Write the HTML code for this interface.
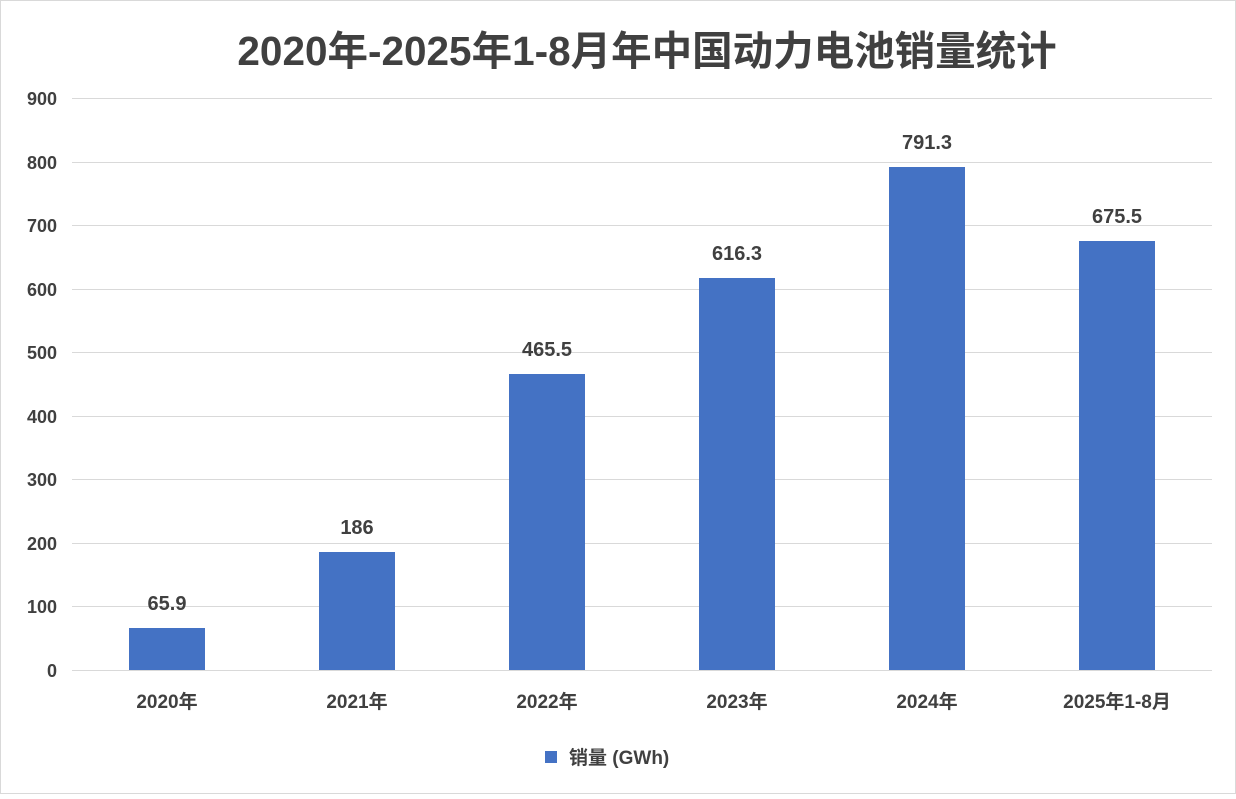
<!DOCTYPE html>
<html><head><meta charset="utf-8"><style>
body{margin:0;background:#fff}
svg text{font-family:"Liberation Sans","Noto Sans CJK SC",sans-serif;font-weight:bold;fill:#404040}
</style></head><body>
<svg width="1236" height="794" xmlns="http://www.w3.org/2000/svg">
<rect x="0.5" y="0.5" width="1235" height="793" fill="#fff" stroke="#d9d9d9"/>
<text x="647" y="65" font-size="40.5" text-anchor="middle" fill="#333">2020年-2025年1-8月年中国动力电池销量统计</text>
<g stroke="#d9d9d9" stroke-width="1">
<line x1="72" x2="1212" y1="98.5" y2="98.5"/><line x1="72" x2="1212" y1="162.5" y2="162.5"/>
<line x1="72" x2="1212" y1="225.5" y2="225.5"/><line x1="72" x2="1212" y1="289.5" y2="289.5"/>
<line x1="72" x2="1212" y1="352.5" y2="352.5"/><line x1="72" x2="1212" y1="416.5" y2="416.5"/>
<line x1="72" x2="1212" y1="479.5" y2="479.5"/><line x1="72" x2="1212" y1="543.5" y2="543.5"/>
<line x1="72" x2="1212" y1="606.5" y2="606.5"/><line x1="72" x2="1212" y1="670.5" y2="670.5"/>
</g>
<g font-size="18" text-anchor="end">
<text x="57" y="105">900</text><text x="57" y="169">800</text><text x="57" y="232">700</text>
<text x="57" y="296">600</text><text x="57" y="359">500</text><text x="57" y="423">400</text>
<text x="57" y="486">300</text><text x="57" y="550">200</text><text x="57" y="613">100</text>
<text x="57" y="677">0</text>
</g>
<g fill="#4472c4">
<rect x="129" y="628" width="76" height="42"/>
<rect x="319" y="552" width="76" height="118"/>
<rect x="509" y="374" width="76" height="296"/>
<rect x="699" y="278" width="76" height="392"/>
<rect x="889" y="167" width="76" height="503"/>
<rect x="1079" y="241" width="76" height="429"/>
</g>
<g font-size="20" text-anchor="middle">
<text x="167" y="610">65.9</text><text x="357" y="534">186</text><text x="547" y="356">465.5</text>
<text x="737" y="260">616.3</text><text x="927" y="149">791.3</text><text x="1117" y="223">675.5</text>
</g>
<g font-size="19" text-anchor="middle">
<text x="167" y="708">2020年</text><text x="357" y="708">2021年</text><text x="547" y="708">2022年</text>
<text x="737" y="708">2023年</text><text x="927" y="708">2024年</text><text x="1117" y="708">2025年1-8月</text>
</g>
<rect x="545" y="751" width="12" height="12" fill="#4472c4"/>
<text x="569" y="764" font-size="19">销量 (GWh)</text>
</svg>
</body></html>
